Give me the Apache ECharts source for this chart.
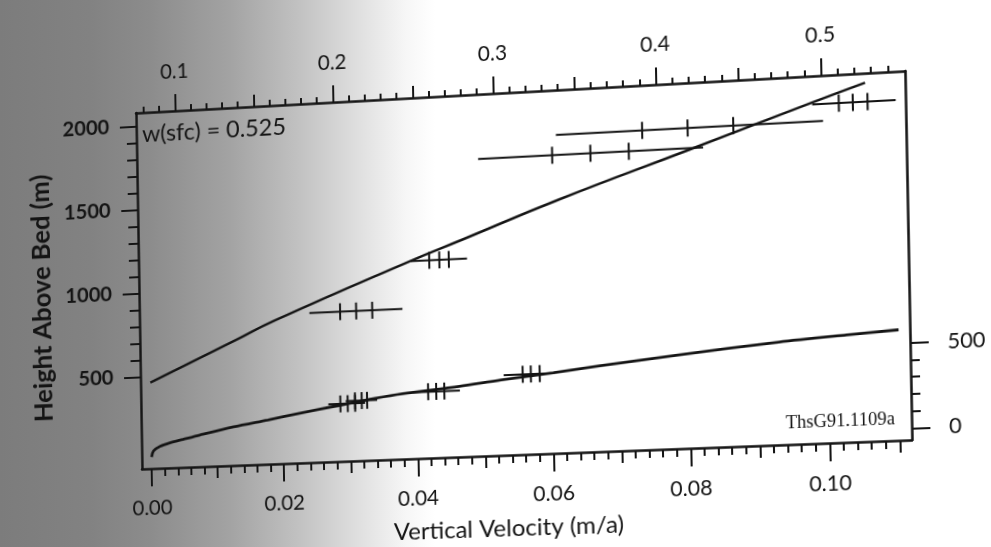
<!DOCTYPE html>
<html>
<head>
<meta charset="utf-8">
<script src="https://cdn.jsdelivr.net/npm/echarts@6/dist/echarts.min.js"></script>
<style>
html,body{margin:0;padding:0;width:991px;height:547px;overflow:hidden;}
body{background:linear-gradient(to right,#7c7c7c 0px,#828282 90px,#8c8c8c 150px,#a3a3a3 230px,#c2c2c2 300px,#e0e0e0 360px,#f6f6f6 405px,#ffffff 435px);}
#chart{position:absolute;left:0;top:0;width:991px;height:547px;transform-origin:0 0;}
</style>
</head>
<body>
<div id="chart"></div>
<script>
// ---------------- data ----------------
// upper model curve: [vertical velocity (m/a), height above bed (m)] on the left axis
const upperCurve = [[0, 463], [0.0130, 694], [0.0189, 800], [0.0395, 1118], [0.0471, 1227],
  [0.0616, 1437], [0.0805, 1687], [0.0987, 1929], [0.1060, 2023]];
// lower model curve: [vertical velocity, height] on the right axis
const lowerCurve = [[0, 0], [0.0003, 37], [0.0013, 63], [0.0028, 82], [0.0048, 100], [0.0074, 123],
  [0.0125, 164], [0.0177, 198], [0.0227, 232], [0.0277, 264], [0.0338, 302], [0.0379, 323],
  [0.0463, 353], [0.0525, 382], [0.0602, 411], [0.0670, 441], [0.0785, 487], [0.0930, 538],
  [0.1027, 563], [0.1101, 580]];
// measurement bars (upper group, left axis)
const upperBarHeight = [1913, 1815, 1697, 1115, 836];
const upperBarLow = [0.0984, 0.0612, 0.0497, 0.0395, 0.0242];
const upperBarHigh = [0.1103, 0.0999, 0.0826, 0.0478, 0.0381];
const upperBarTicks = [[0.1022, 0.1042, 0.1063], [0.0738, 0.0804, 0.0870], [0.0606, 0.0662, 0.0718],
  [0.0422, 0.0437, 0.0451], [0.0288, 0.0312, 0.0336]];
// measurement bars (lower group, right axis)
const lowerBarHeight = [277, 292, 329, 410];
const lowerBarLow = [0.0268, 0.0294, 0.0394, 0.0529];
const lowerBarHigh = [0.0323, 0.0341, 0.0464, 0.0603];
const lowerBarTicks = [[0.0286, 0.0297, 0.0308], [0.0308, 0.0318, 0.0326], [0.0417, 0.0429, 0.0441],
  [0.0557, 0.0569, 0.0582]];
// tick labels
const bottomTickLabels = [0, 0.02, 0.04, 0.06, 0.08, 0.10];
const bottomMidTicks = [0.01, 0.03, 0.05, 0.07, 0.09, 0.11];
const topTickLabels = [0.1, 0.2, 0.3, 0.4, 0.5];
const topMidTicks = [0.15, 0.25, 0.35, 0.45];
const leftTickLabels = [500, 1000, 1500, 2000];
const rightTickLabels = [0, 500];
const noteText = 'w(sfc) = 0.525';
const idText = 'ThsG91.1109a';

// minor tick positions
const bottomMinor = []; for (let i = 0; i <= 55; i++) bottomMinor.push(+(i * 0.002).toFixed(3));
const topMinor = []; for (let i = 8; i <= 54; i++) topMinor.push(+(i * 0.01).toFixed(2));
const leftMinor = []; for (let v = 500; v <= 2000; v += 100) leftMinor.push(v);
const rightMinor = []; for (let v = 0; v <= 500; v += 100) rightMinor.push(v);

// ---------------- layout ----------------
const G = {left: 139, top: 92, width: 770, height: 362};
const X0 = -0.0015, X1 = 0.1117, T0 = 0.0751, T1 = 0.5503;
const L0 = -50, L1 = 2078, R0 = -70, R1 = 2099;
const INK = '#141414';
const FONT = 'Lato';

// perspective of the scanned page
function solve(A, b) {
  const n = b.length;
  for (let i = 0; i < n; i++) {
    let p = i;
    for (let r = i + 1; r < n; r++) if (Math.abs(A[r][i]) > Math.abs(A[p][i])) p = r;
    [A[i], A[p]] = [A[p], A[i]]; [b[i], b[p]] = [b[p], b[i]];
    for (let r = i + 1; r < n; r++) {
      const f = A[r][i] / A[i][i];
      for (let c = i; c < n; c++) A[r][c] -= f * A[i][c];
      b[r] -= f * b[i];
    }
  }
  const x = new Array(n);
  for (let i = n - 1; i >= 0; i--) {
    let s = b[i];
    for (let c = i + 1; c < n; c++) s -= A[i][c] * x[c];
    x[i] = s / A[i][i];
  }
  return x;
}
const src = [[G.left, G.top], [G.left + G.width, G.top], [G.left + G.width, G.top + G.height], [G.left, G.top + G.height]];
const dst = [[136, 113], [905, 71], [912, 440], [142, 469]];
const A = [], B = [];
for (let i = 0; i < 4; i++) {
  const [x, y] = src[i], [X, Y] = dst[i];
  A.push([x, y, 1, 0, 0, 0, -x * X, -y * X]); B.push(X);
  A.push([0, 0, 0, x, y, 1, -x * Y, -y * Y]); B.push(Y);
}
const h = solve(A, B);
document.getElementById('chart').style.transform =
  'matrix3d(' + [h[0], h[3], 0, h[6], h[1], h[4], 0, h[7], 0, 0, 1, 0, h[2], h[5], 0, 1].join(',') + ')';

// ---------------- chart ----------------
const chart = echarts.init(document.getElementById('chart'), null, {renderer: 'canvas'});

function tickAxis(pos, min, max, vals, len) {
  return {
    type: 'value', position: pos, min: min, max: max, gridIndex: 0,
    axisLine: {show: false, onZero: false},
    axisTick: {show: true, inside: false, length: len, customValues: vals, lineStyle: {color: INK, width: 2}},
    axisLabel: {show: false},
    splitLine: {show: false}
  };
}

const labelStyle = {color: INK, fontFamily: FONT, fontSize: 21};

const barItems = (hs, lo, hi, ticks) => hs.map((y, i) => [y, lo[i], hi[i]].concat(ticks[i]));

function renderBar(params, api) {
  const y = api.value(0);
  const p1 = api.coord([api.value(1), y]);
  const p2 = api.coord([api.value(2), y]);
  const children = [{type: 'line', shape: {x1: p1[0], y1: p1[1], x2: p2[0], y2: p2[1]},
    style: {stroke: INK, lineWidth: 2}}];
  for (let k = 3; k < 6; k++) {
    const c = api.coord([api.value(k), y]);
    children.push({type: 'line', shape: {x1: c[0], y1: c[1] - 8.5, x2: c[0], y2: c[1] + 8.5},
      style: {stroke: INK, lineWidth: 2}});
  }
  return {type: 'group', children: children};
}

chart.setOption({
  animation: false,
  backgroundColor: 'transparent',
  grid: {left: G.left, top: G.top, width: G.width, height: G.height, containLabel: false, outerBoundsMode: 'none'},
  xAxis: [
    {
      type: 'value', position: 'bottom', min: X0, max: X1,
      axisLine: {show: true, onZero: false, lineStyle: {color: INK, width: 2.5}},
      axisTick: {show: true, length: 18, customValues: bottomTickLabels, lineStyle: {color: INK, width: 2}},
      axisLabel: Object.assign({customValues: bottomTickLabels, margin: 30, formatter: v => v.toFixed(2)}, labelStyle),
      splitLine: {show: false},
      name: 'Vertical Velocity (m/a)', nameLocation: 'middle', nameGap: 61,
      nameTextStyle: {color: INK, fontFamily: FONT, fontSize: 24, padding: [0, 26, 0, 0]}
    },
    tickAxis('bottom', X0, X1, bottomMidTicks, 12),
    tickAxis('bottom', X0, X1, bottomMinor, 8),
    {
      type: 'value', position: 'top', min: T0, max: T1,
      axisLine: {show: true, onZero: false, lineStyle: {color: INK, width: 2.5}},
      axisTick: {show: true, length: 17, customValues: topTickLabels, lineStyle: {color: INK, width: 2}},
      axisLabel: Object.assign({customValues: topTickLabels, margin: 29, formatter: v => String(+v.toFixed(1))}, labelStyle),
      splitLine: {show: false}
    },
    tickAxis('top', T0, T1, topMidTicks, 12),
    tickAxis('top', T0, T1, topMinor, 6)
  ],
  yAxis: [
    {
      type: 'value', position: 'left', min: L0, max: L1,
      axisLine: {show: true, onZero: false, lineStyle: {color: INK, width: 2.5}},
      axisTick: {show: true, length: 17, customValues: leftTickLabels, lineStyle: {color: INK, width: 2}},
      axisLabel: Object.assign({customValues: leftTickLabels, margin: 28, formatter: v => String(v)}, labelStyle, {fontWeight: 'bold'}),
      splitLine: {show: false},
      name: 'Height Above Bed (m)', nameLocation: 'middle', nameGap: 86, nameRotate: 90,
      nameTextStyle: {color: INK, fontFamily: FONT, fontSize: 26, fontWeight: 'bold', padding: [0, 6, 0, 0]}
    },
    {
      type: 'value', position: 'right', min: R0, max: R1,
      axisLine: {show: true, onZero: false, lineStyle: {color: INK, width: 2.5}},
      axisTick: {show: true, length: 18, customValues: rightTickLabels, lineStyle: {color: INK, width: 2}},
      axisLabel: Object.assign({customValues: rightTickLabels, margin: 36, formatter: v => String(v)}, labelStyle),
      splitLine: {show: false}
    },
    tickAxis('left', L0, L1, leftMinor, 10),
    tickAxis('right', R0, R1, rightMinor, 9)
  ],
  graphic: [
    {type: 'text', x: 219, y: 114, style: {text: noteText, fill: INK, fontFamily: FONT, fontSize: 24, align: 'center', verticalAlign: 'middle'}},
    {type: 'text', x: 840, y: 433, style: {text: idText, fill: INK, fontFamily: 'Liberation Serif', fontSize: 18, align: 'center', verticalAlign: 'middle'}}
  ],
  series: [
    {type: 'line', name: 'upper', xAxisIndex: 0, yAxisIndex: 0, data: upperCurve, smooth: 0.5,
      symbol: 'none', lineStyle: {color: INK, width: 2.5}, silent: true},
    {type: 'line', name: 'lower', xAxisIndex: 0, yAxisIndex: 1, data: lowerCurve, smooth: 0.3,
      symbol: 'none', lineStyle: {color: INK, width: 2.8}, silent: true},
    {type: 'custom', name: 'upper bars', xAxisIndex: 0, yAxisIndex: 0, renderItem: renderBar,
      encode: {x: [1, 2], y: 0}, data: barItems(upperBarHeight, upperBarLow, upperBarHigh, upperBarTicks), silent: true},
    {type: 'custom', name: 'lower bars', xAxisIndex: 0, yAxisIndex: 1, renderItem: renderBar,
      encode: {x: [1, 2], y: 0}, data: barItems(lowerBarHeight, lowerBarLow, lowerBarHigh, lowerBarTicks), silent: true}
  ]
});
</script>
</body>
</html>
